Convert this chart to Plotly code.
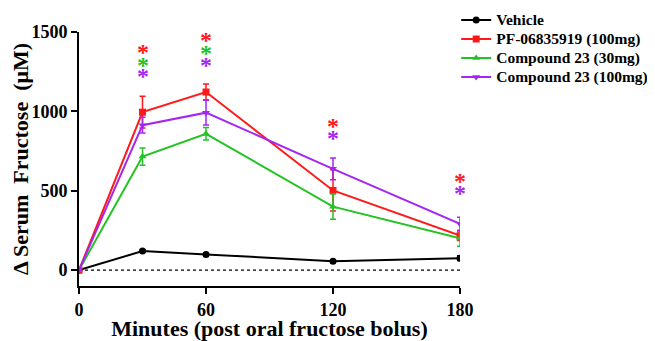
import plotly.graph_objects as go

minutes = [0, 30, 60, 120, 180]

series_names = ["Vehicle", "PF-06835919 (100mg)", "Compound 23 (30mg)", "Compound 23 (100mg)"]
vehicle = [0, 120, 99, 56, 75]
vehicle_err = [0, 8, 8, 8, 15]
pf = [0, 995, 1122, 502, 217]
pf_err = [0, 100, 50, 130, 30]
c23_30 = [0, 715, 859, 400, 200]
c23_30_err = [0, 55, 40, 80, 50]
c23_100 = [0, 913, 992, 638, 291]
c23_100_err = [0, 50, 78, 68, 42]

# significance asterisks: (minute, y value, series index)
star_minutes = [30, 30, 30, 60, 60, 60, 120, 120, 180, 180]
star_values = [1392, 1314, 1240, 1466, 1388, 1312, 924, 850, 580, 506]
star_series = [1, 2, 3, 1, 2, 3, 1, 3, 1, 3]

x_ticks = [0, 60, 120, 180]
y_ticks = [0, 500, 1000, 1500]

colors = ["#000000", "#FF1A1A", "#22C322", "#A526F2"]
symbols = ["circle", "square", "triangle-up", "triangle-down"]
values = [vehicle, pf, c23_30, c23_100]
errors = [vehicle_err, pf_err, c23_30_err, c23_100_err]

font_family = "Liberation Serif"

fig = go.Figure()

fig.add_trace(go.Scatter(
    x=[minutes[0], minutes[-1]], y=[0, 0], mode="lines",
    line=dict(color="black", width=1.2, dash="dot"),
    showlegend=False, hoverinfo="skip"))

for name, v, e, c, s in zip(series_names, values, errors, colors, symbols):
    fig.add_trace(go.Scatter(
        x=minutes, y=v, name=f"<span style='font-size:15.5px'><b>{name}</b></span>",
        mode="lines+markers",
        line=dict(color=c, width=2),
        marker=dict(color=c, symbol=s, size=7),
        error_y=dict(type="data", array=e, visible=True, color=c, thickness=1.5, width=3),
    ))

for m, v, si in zip(star_minutes, star_values, star_series):
    fig.add_annotation(
        x=m, y=v, text="<b>*</b>", showarrow=False,
        font=dict(family=font_family, size=24, color=colors[si]),
        yshift=-3, xanchor="center", yanchor="middle")

# page body has an 8px default margin, so the figure is 8px smaller than the window
fig.update_layout(
    width=647, height=333,
    margin=dict(l=71, r=195, t=24, b=55, autoexpand=False),
    paper_bgcolor="white", plot_bgcolor="white",
    font=dict(family=font_family, color="black"),
    showlegend=True,
    legend=dict(
        x=0.99, y=1.104, xanchor="left", yanchor="top",
        font=dict(family=font_family, size=12, color="black"),
        itemwidth=30, tracegroupgap=0, bgcolor="rgba(0,0,0,0)"),
    xaxis=dict(
        range=[0, 180], tickvals=x_ticks, ticktext=[f"<b>{t}</b>" for t in x_ticks],
        automargin=False,
        showgrid=False, zeroline=False, showline=True, linecolor="black", linewidth=2,
        ticks="outside", tickwidth=2, ticklen=6, tickcolor="black",
        tickfont=dict(size=18, family=font_family),
        title=dict(text="<b>Minutes (post oral fructose bolus)</b>",
                   font=dict(size=22, family=font_family), standoff=2),
    ),
    yaxis=dict(
        range=[-100, 1500], tickvals=y_ticks, ticktext=[f"<b>{t}</b>" for t in y_ticks],
        automargin=False,
        showgrid=False, zeroline=False, showline=True, linecolor="black", linewidth=2,
        ticks="outside", tickwidth=2, ticklen=6, tickcolor="black",
        tickfont=dict(size=18, family=font_family),
        title=dict(text="<b>Δ Serum\u00a0 Fructose\u00a0 (μM)</b>",
                   font=dict(size=22, family=font_family), standoff=2),
    ),
)

fig.write_html("out.html")
